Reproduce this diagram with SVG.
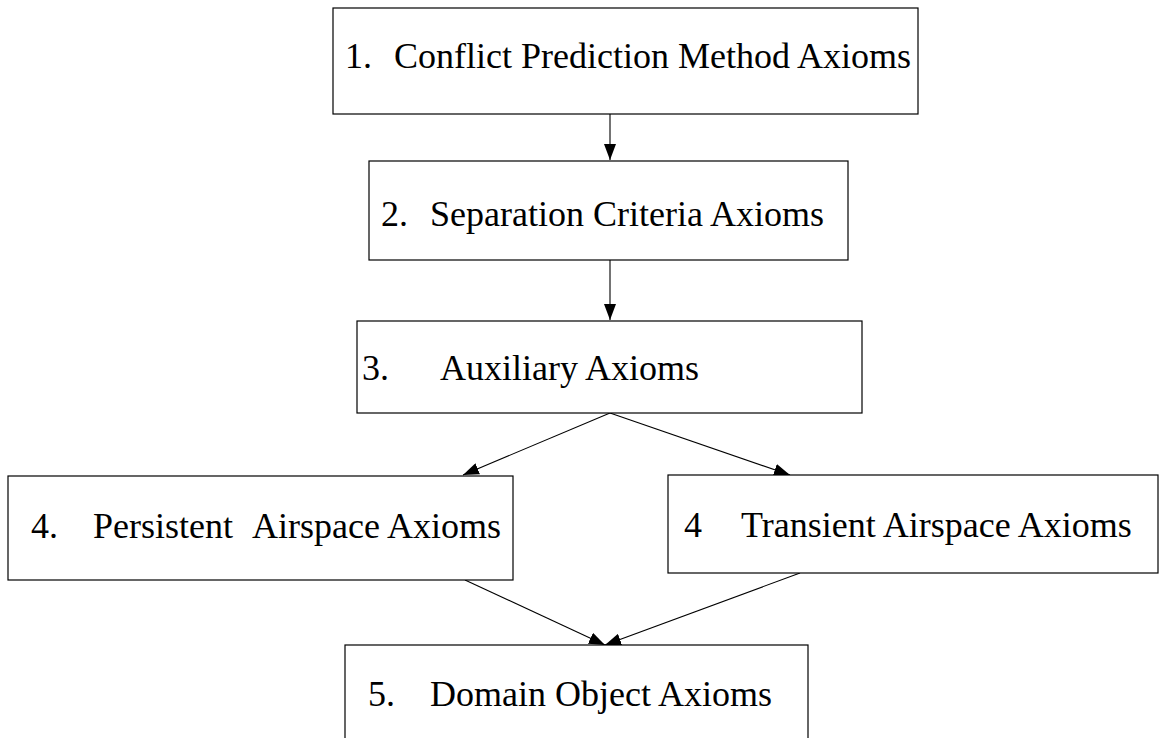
<svg xmlns="http://www.w3.org/2000/svg" width="1167" height="738" viewBox="0 0 1167 738">
<defs>
<style>
.box{fill:#fff;stroke:#000;stroke-width:1.2}
.t{font-family:"Liberation Serif","Times New Roman",serif;font-size:36px;fill:#000}
.c{stroke:#000;stroke-width:1.1;fill:none;marker-end:url(#ah)}
</style>
<marker id="ah" markerUnits="userSpaceOnUse" markerWidth="16" markerHeight="12" refX="16" refY="6" orient="auto">
<path d="M0,0 L16,6 L0,12 Z" fill="#000"/>
</marker>
</defs>
<rect width="1167" height="738" fill="#fff"/>
<g id="connectors">
<line class="c" x1="610" y1="114" x2="610" y2="160"/>
<line class="c" x1="610" y1="260" x2="610" y2="320"/>
<line class="c" x1="610" y1="413" x2="463" y2="475"/>
<line class="c" x1="610" y1="413" x2="790" y2="475"/>
<line class="c" x1="465" y1="580" x2="605" y2="645"/>
<line class="c" x1="800" y1="573" x2="605" y2="645"/>
</g>
<g id="n1">
<rect class="box" x="333" y="8" width="585" height="106"/>
<text class="t" y="68"><tspan x="345">1.</tspan><tspan x="394">Conflict Prediction Method Axioms</tspan></text>
</g>
<g id="n2">
<rect class="box" x="369" y="161" width="479" height="99"/>
<text class="t" y="226"><tspan x="381">2.</tspan><tspan x="430">Separation Criteria Axioms</tspan></text>
</g>
<g id="n3">
<rect class="box" x="357" y="321" width="505" height="92"/>
<text class="t" y="380"><tspan x="362">3.</tspan><tspan x="440">Auxiliary Axioms</tspan></text>
</g>
<g id="n4a">
<rect class="box" x="8" y="476" width="505" height="104"/>
<text class="t" y="538"><tspan x="31">4.</tspan><tspan x="93">Persistent</tspan><tspan x="252">Airspace Axioms</tspan></text>
</g>
<g id="n4b">
<rect class="box" x="668" y="475" width="490" height="98"/>
<text class="t" y="537"><tspan x="684">4</tspan><tspan x="741">Transient Airspace Axioms</tspan></text>
</g>
<g id="n5">
<rect class="box" x="345" y="645" width="463" height="110"/>
<text class="t" y="706"><tspan x="368">5.</tspan><tspan x="430">Domain Object Axioms</tspan></text>
</g>
</svg>
